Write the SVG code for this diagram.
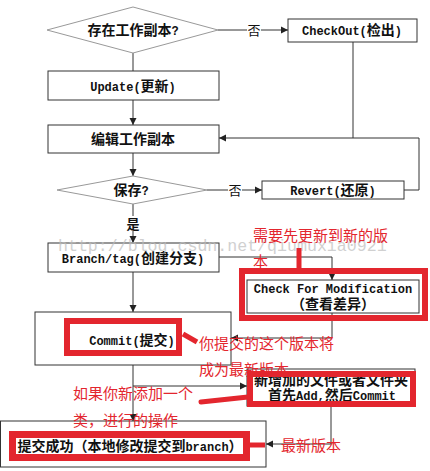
<svg xmlns="http://www.w3.org/2000/svg" width="430" height="471" viewBox="0 0 430 471">
<style>
.box{fill:#fff;stroke:#333;stroke-width:1}
.dia{fill:#fff;stroke:#999;stroke-width:1}
.ln{fill:none;stroke:#333;stroke-width:1}
.t{font-family:"Liberation Mono","Noto Sans CJK SC",monospace;font-size:12px;font-weight:bold;fill:#111;text-anchor:middle}
.k{font-family:"Noto Sans CJK SC",sans-serif;font-size:14px;font-weight:bold}
.lbl{font-family:"Noto Sans CJK SC",sans-serif;font-size:13px;fill:#111;text-anchor:middle}
.red{fill:none;stroke:#e3262e}
.rt{font-family:"Noto Sans CJK SC",sans-serif;font-size:15px;fill:#e3262e}
.wm{font-family:"Liberation Mono",monospace;font-size:16.6px;fill:#bdbdbd;opacity:0.7}
</style>
<defs>
<marker id="ar" markerWidth="8" markerHeight="8" refX="7" refY="4" orient="auto" markerUnits="userSpaceOnUse">
<path d="M0,0.5 L7,4 L0,7.5 Z" fill="#222"/>
</marker>
</defs>
<rect width="430" height="471" fill="#fff"/>

<g id="connectors">
<line class="ln" x1="218" y1="30" x2="247" y2="30"/>
<line class="ln" x1="261" y1="30" x2="288" y2="30" marker-end="url(#ar)"/>
<line class="ln" x1="133" y1="53" x2="133" y2="71"/>
<line class="ln" x1="133" y1="100" x2="133" y2="125" marker-end="url(#ar)"/>
<line class="ln" x1="353" y1="42" x2="353" y2="138"/>
<polyline class="ln" points="404,190 419,190 419,138 219,138" marker-end="url(#ar)"/>
<line class="ln" x1="133" y1="153" x2="133" y2="176" marker-end="url(#ar)"/>
<line class="ln" x1="207" y1="190" x2="228" y2="190"/>
<line class="ln" x1="242" y1="190" x2="262" y2="190" marker-end="url(#ar)"/>
<line class="ln" x1="133" y1="204" x2="133" y2="216"/>
<line class="ln" x1="133" y1="231" x2="133" y2="243" marker-end="url(#ar)"/>
<polyline class="ln" points="219,257 332,257 332,280" marker-end="url(#ar)"/>
<line class="ln" x1="133" y1="272" x2="133" y2="312" marker-end="url(#ar)"/>
<polyline class="ln" points="332,313 332,338 231,338" marker-end="url(#ar)"/>
<line class="ln" x1="133" y1="365" x2="133" y2="421" marker-end="url(#ar)"/>
<line class="ln" x1="133" y1="386" x2="247" y2="386" marker-end="url(#ar)"/>
<polyline class="ln" points="331,406 331,444 266,444" marker-end="url(#ar)"/>
<text class="lbl" x="254" y="35">否</text>
<text class="lbl" x="235" y="195">否</text>
<text class="lbl" x="133" y="229" font-weight="bold">是</text>
</g>

<g id="n-exist">
<polygon class="dia" points="47,30 133,7 218,30 133,53"/>
<text class="t" x="133" y="35"><tspan class="k">存在工作副本</tspan>?</text>
</g>
<g id="n-checkout">
<rect class="box" x="288" y="19" width="129" height="23"/>
<text class="t" x="352" y="35">CheckOut(<tspan class="k">检出</tspan>)</text>
</g>
<g id="n-update">
<rect class="box" x="48" y="71" width="171" height="29"/>
<text class="t" x="133" y="91">Update(<tspan class="k">更新</tspan>)</text>
</g>
<g id="n-edit">
<rect class="box" x="48" y="125" width="171" height="28"/>
<text class="t" x="133" y="144"><tspan class="k">编辑工作副本</tspan></text>
</g>
<g id="n-save">
<polygon class="dia" points="57,190 133,176 207,190 133,204"/>
<text class="t" x="131" y="195"><tspan class="k">保存</tspan>?</text>
</g>
<g id="n-revert">
<rect class="box" x="262" y="181" width="142" height="18"/>
<text class="t" x="333" y="195">Revert(<tspan class="k">还原</tspan>)</text>
</g>
<g id="n-branch">
<rect class="box" x="48" y="243" width="171" height="29"/>
<text class="t" x="133" y="263">Branch/tag(<tspan class="k">创建分支</tspan>)</text>
</g>
<g id="n-check">
<rect class="box" x="247" y="280" width="172" height="33"/>
<text class="t" x="333" y="293">Check For Modification</text>
<text class="t" x="333" y="309"><tspan class="k">（查看差异）</tspan></text>
</g>
<g id="n-commit">
<rect class="box" x="35" y="312" width="196" height="53" stroke="#666"/>
<text class="t" x="132" y="345">Commit(<tspan class="k">提交</tspan>)</text>
</g>
<g id="n-add">
<rect class="box" x="247" y="369" width="168" height="37"/>
<text class="t" x="331" y="385"><tspan class="k">新增加的文件或者文件夹</tspan></text>
<text class="t" x="332" y="400"><tspan class="k">首先</tspan>Add,<tspan class="k">然后</tspan>Commit</text>
</g>
<g id="n-success">
<rect class="box" x="0.5" y="421" width="265.5" height="46" stroke="#111"/>
<text class="t" x="130" y="451"><tspan class="k">提交成功（本地修改提交到</tspan>branch<tspan class="k">）</tspan></text>
</g>

<text class="wm" x="58" y="251">http://blog.csdn.net/qiumuxia0921</text>

<g id="annotations">
<rect class="red" x="242" y="271" width="183" height="47" stroke-width="6"/>
<rect class="red" x="67" y="321" width="112" height="32" stroke-width="6"/>
<rect class="red" x="250" y="374" width="163" height="30" stroke-width="6"/>
<rect class="red" x="12.5" y="434.5" width="234" height="23" stroke-width="7"/>
<line class="red" x1="299" y1="248" x2="299" y2="273" stroke-width="5"/>
<line class="red" x1="183" y1="334" x2="197" y2="342" stroke-width="5"/>
<line class="red" x1="201" y1="402" x2="248" y2="397" stroke-width="5" stroke-linecap="round"/>
<line class="red" x1="250" y1="445" x2="265" y2="445" stroke-width="5"/>
<text class="rt" x="253" y="241">需要先更新到新的版</text>
<text class="rt" x="253" y="267">本</text>
<text class="rt" x="199" y="349">你提交的这个版本将</text>
<text class="rt" x="199" y="375">成为最新版本</text>
<text class="rt" x="73" y="399">如果你新添加一个</text>
<text class="rt" x="73" y="426">类，进行的操作</text>
<text class="rt" x="281" y="451">最新版本</text>
</g>
</svg>
